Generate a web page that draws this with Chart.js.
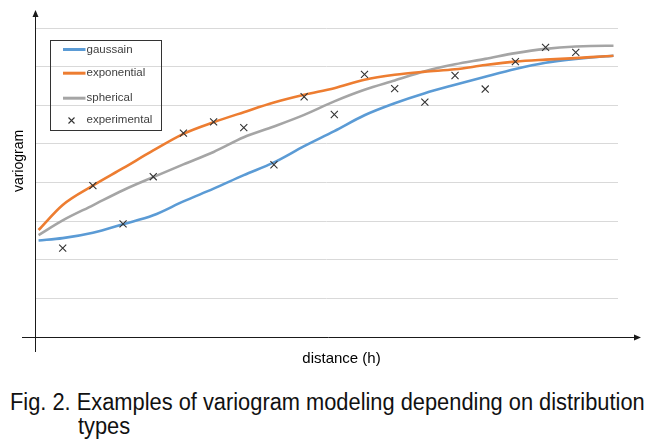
<!DOCTYPE html>
<html><head><meta charset="utf-8">
<script src="https://cdn.jsdelivr.net/npm/chart.js@4.4.1/dist/chart.umd.min.js"></script>
<style>
html,body{margin:0;padding:0;background:#fff;width:661px;height:446px;overflow:hidden}
#wrap{position:absolute;left:0;top:0;width:661px;height:372px}
.cap{position:absolute;font-family:"Liberation Sans",Arial,sans-serif;font-size:23px;line-height:24px;color:#111;white-space:nowrap;transform-origin:0 0}
</style></head><body>
<div id="wrap"><canvas id="c" width="661" height="372"></canvas></div>
<div class="cap" id="cap1" style="left:10px;top:390px">Fig. 2. Examples of variogram modeling depending on distribution</div>
<div class="cap" id="cap2" style="left:78px;top:414px">types</div>
<script>
// ---- data ----
const xTitle = 'distance (h)';
const yTitle = 'variogram';
const seriesLabels = ['gaussain', 'exponential', 'spherical', 'experimental'];
const yTicks = [0, 1, 2, 3, 4, 5, 6, 7, 8];
const modelX = [0.2, 1, 2, 3, 4, 5, 6, 7, 8, 9, 10, 11, 12, 13, 14, 15, 16, 17, 18, 19, 19.25];
const gaussian = [2.50, 2.56, 2.70, 2.92, 3.15, 3.51, 3.84, 4.19, 4.52, 4.94, 5.33, 5.74, 6.05, 6.31, 6.53, 6.74, 6.94, 7.10, 7.20, 7.27, 7.28];
const exponential = [2.77, 3.42, 3.92, 4.37, 4.83, 5.26, 5.56, 5.82, 6.07, 6.27, 6.44, 6.66, 6.79, 6.87, 6.93, 7.04, 7.13, 7.18, 7.22, 7.27, 7.28];
const spherical = [2.64, 3.02, 3.41, 3.80, 4.14, 4.47, 4.79, 5.17, 5.45, 5.75, 6.10, 6.40, 6.64, 6.88, 7.06, 7.20, 7.35, 7.46, 7.52, 7.54, 7.54];
const expX = [1, 2, 3, 4, 5, 6, 7, 8, 9, 10, 11, 12, 13, 14, 15, 16, 17, 18];
const experimental = [2.30, 3.92, 2.93, 4.15, 5.28, 5.57, 5.42, 4.46, 6.22, 5.76, 6.80, 6.43, 6.08, 6.77, 6.42, 7.13, 7.50, 7.37];

const pairs = (xs, ys) => xs.map((x, i) => ({x: x, y: ys[i]}));
const FONT = '"Liberation Sans", Arial, sans-serif';

const decor = {
  id: 'decor',
  afterDraw(chart) {
    const ctx = chart.ctx, a = chart.chartArea;
    ctx.save();
    // axes with arrows
    ctx.strokeStyle = '#1a1a1a'; ctx.fillStyle = '#1a1a1a'; ctx.lineWidth = 1;
    const ax = Math.round(a.left) + 0.5, ay = Math.round(a.bottom) + 0.5;
    ctx.beginPath(); ctx.moveTo(ax, a.bottom + 15); ctx.lineTo(ax, a.top - 12); ctx.stroke();
    ctx.beginPath(); ctx.moveTo(ax, a.top - 18); ctx.lineTo(ax - 3, a.top - 11); ctx.lineTo(ax + 3, a.top - 11); ctx.closePath(); ctx.fill();
    ctx.beginPath(); ctx.moveTo(a.left - 13, ay); ctx.lineTo(a.right + 17, ay); ctx.stroke();
    ctx.beginPath(); ctx.moveTo(a.right + 23, ay); ctx.lineTo(a.right + 16, ay - 3); ctx.lineTo(a.right + 16, ay + 3); ctx.closePath(); ctx.fill();
    // axis titles
    ctx.fillStyle = '#000';
    ctx.font = '15px ' + FONT; ctx.textAlign = 'center'; ctx.textBaseline = 'alphabetic';
    ctx.fillText(xTitle, (a.left + a.right) / 2 + 15, a.bottom + 26);
    ctx.save();
    ctx.translate(a.left - 12.5, 161); ctx.rotate(-Math.PI / 2);
    ctx.font = '14px ' + FONT;
    ctx.fillText(yTitle, 0, 0);
    ctx.restore();
    // legend box
    const bx = a.left + 15.5, by = a.top + 12.5, bw = 111, bh = 90;
    ctx.strokeStyle = '#333'; ctx.lineWidth = 1;
    ctx.strokeRect(bx, by, bw, bh);
    const rows = [9, 32.7, 57.7, 79];
    ctx.font = '11.5px ' + FONT; ctx.textAlign = 'left'; ctx.textBaseline = 'middle';
    chart.data.datasets.forEach((ds, i) => {
      const ry = by + rows[i];
      if (ds.showLine === false) {
        ctx.strokeStyle = ds.borderColor; ctx.lineWidth = 1.1;
        const cx = bx + 21, r = 3;
        ctx.beginPath(); ctx.moveTo(cx - r, ry - r + 1); ctx.lineTo(cx + r, ry + r + 1);
        ctx.moveTo(cx + r, ry - r + 1); ctx.lineTo(cx - r, ry + r + 1); ctx.stroke();
      } else {
        ctx.strokeStyle = ds.borderColor; ctx.lineWidth = 3;
        ctx.beginPath(); ctx.moveTo(bx + 12.5, ry); ctx.lineTo(bx + 35, ry); ctx.stroke();
      }
      ctx.fillStyle = '#404040';
      ctx.fillText(ds.label, bx + 36, ry);
    });
    ctx.restore();
  }
};

const lineOpts = {showLine: true, borderWidth: 2.6, pointRadius: 0, cubicInterpolationMode: 'monotone'};

new Chart(document.getElementById('c'), {
  type: 'scatter',
  data: {
    datasets: [
      Object.assign({label: seriesLabels[0], data: pairs(modelX, gaussian), borderColor: '#5B9BD5', order: 3}, lineOpts),
      Object.assign({label: seriesLabels[1], data: pairs(modelX, exponential), borderColor: '#ED7D31', order: 2}, lineOpts),
      Object.assign({label: seriesLabels[2], data: pairs(modelX, spherical), borderColor: '#A5A5A5', order: 4}, lineOpts),
      {label: seriesLabels[3], data: pairs(expX, experimental), showLine: false, borderColor: '#333', backgroundColor: '#333', pointStyle: 'crossRot', pointRadius: 5, borderWidth: 1.1, order: 1}
    ]
  },
  options: {
    responsive: false, animation: false, devicePixelRatio: 1,
    layout: {autoPadding: false, padding: {left: 35, top: 28, right: 43, bottom: 35}},
    plugins: {legend: {display: false}, tooltip: {enabled: false}},
    scales: {
      x: {type: 'linear', min: 0.082, max: 19.40, ticks: {display: false}, grid: {display: false, drawTicks: false}, border: {display: false}},
      y: {type: 'linear', min: yTicks[0], max: yTicks[yTicks.length - 1],
          afterBuildTicks: (s) => { s.ticks = yTicks.map(v => ({value: v})); },
          ticks: {display: false}, grid: {color: '#d9d9d9', lineWidth: 1, drawTicks: false}, border: {display: false}}
    }
  },
  plugins: [decor]
});

function fitCaption() {
  const c1 = document.getElementById('cap1'), c2 = document.getElementById('cap2');
  const w = c1.scrollWidth;
  const s = 635 / w;
  c1.style.transform = 'scaleX(' + s + ')';
  c2.style.transform = 'scaleX(' + s + ')';
}
fitCaption();
if (document.fonts && document.fonts.ready) document.fonts.ready.then(fitCaption);
</script>
</body></html>
